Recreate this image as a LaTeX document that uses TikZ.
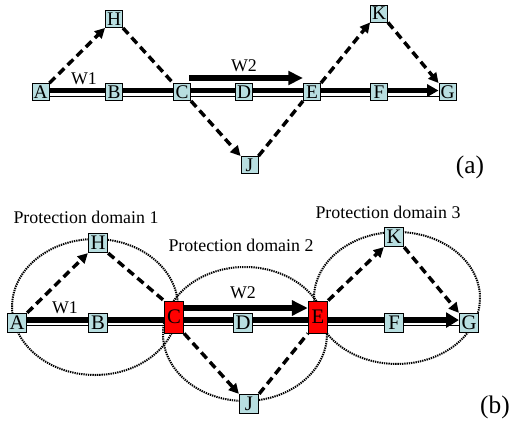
\documentclass[tikz,border=0pt]{standalone}
\usepackage{fontspec}
\setmainfont{Liberation Serif}
\usetikzlibrary{arrows.meta,backgrounds}
\definecolor{nodecyan}{RGB}{184,222,224}
\definecolor{hubred}{RGB}{255,0,0}
\begin{document}
\begin{tikzpicture}[x=0.75pt,y=-0.75pt,
  netnode/.style={draw=black,line width=0.7pt,fill=nodecyan,inner sep=0pt,
    minimum width=12.75pt,minimum height=12.75pt,font=\fontsize{14.5}{14.5}\selectfont},
  bignode/.style={netnode,minimum width=14.5pt,minimum height=14.5pt,
    font=\fontsize{15.5}{15.5}\selectfont},
  hubnode/.style={bignode,fill=hubred,minimum height=24pt},
  lbl/.style={font=\fontsize{13.4}{14}\selectfont,inner sep=0pt},
  tag/.style={font=\fontsize{19}{19}\selectfont,inner sep=0pt},
  backup/.style={line width=2.6pt,dash pattern=on 6pt off 3.6pt},
  backuparr/.style={backup,-{Triangle[length=7.5pt,width=7.5pt]}},
  workthick/.style={line width=3.9pt},
  workthin/.style={line width=0.9pt},
  domainring/.style={line width=1.5pt,dash pattern=on 1pt off 0.7pt},
  w2arrow/.style={line width=4.4pt}
]
\path[use as bounding box] (0,0) rectangle (511,422);

% ---------------- (a) ----------------
\node[netnode] (aA) at (40.5,92) {A};
\node[netnode] (aB) at (114,92) {B};
\node[netnode] (aC) at (182,92) {C};
\node[netnode] (aD) at (244,92) {D};
\node[netnode] (aE) at (312,92) {E};
\node[netnode] (aF) at (379,92) {F};
\node[netnode] (aG) at (447.5,92) {G};
\node[netnode] (aH) at (114,19) {H};
\node[netnode] (aK) at (379,13.5) {K};
\node[netnode] (aJ) at (249.5,165) {J};

\begin{scope}[on background layer]
  \draw[workthin] ([yshift=-3.4pt]aA.east) -- ([yshift=-3.4pt]aG.west);
  \draw[workthick,-{Triangle[length=8.5pt,width=9pt]}]
    ([yshift=1.1pt]aA.east) -- ([yshift=1.1pt]aG.west);
\end{scope}

\node[lbl] (aW1) at (84,79) {W1};
\node[lbl] (aW2) at (244,66) {W2};
\coordinate (aW2s) at (189,78);
\coordinate (aW2e) at (303,78);
\draw[w2arrow,-{Triangle[length=11pt,width=10pt]}] (aW2s) -- (aW2e);

\draw[backuparr] (aA.north east) -- (aH.south west);
\draw[backup] (aH.south east) -- (aC.north west);
\draw[backuparr] (aC.south east) -- (aJ.north west);
\draw[backup] (aJ.north east) -- (aE.south west);
\draw[backuparr] (aE.north east) -- (aK.south west);
\draw[backuparr] (aK.south east) -- (aG.north west);

\node[tag] (atag) at (470,167) {(a)};

% ---------------- (b) ----------------
\node[bignode] (bA) at (17,323) {A};
\node[bignode] (bB) at (98,323) {B};
\node[hubnode] (bC) at (174,317) {C};
\node[bignode] (bD) at (243,323) {D};
\node[hubnode] (bE) at (318,317) {E};
\node[bignode] (bF) at (394,323) {F};
\node[bignode] (bG) at (469,323) {G};
\node[bignode] (bH) at (98,243) {H};
\node[bignode] (bK) at (394,237) {K};
\node[bignode] (bJ) at (249,404) {J};

\begin{scope}[on background layer]
  \draw[domainring] (95,307) ellipse [x radius=83, y radius=68];
  \draw[domainring] (245,334) ellipse [x radius=82, y radius=67];
  \draw[domainring] (397,298) ellipse [x radius=83, y radius=66];
  \draw[workthin] ([yshift=-2pt]bA.east) -- ([yshift=-2pt]bG.west);
  \draw[workthick,-{Triangle[length=9.5pt,width=11pt]}]
    ([yshift=2.2pt]bA.east) -- ([yshift=2.2pt]bG.west);
\end{scope}

\node[lbl] (bW1) at (65,308) {W1};
\node[lbl] (bW2) at (243,293) {W2};
\coordinate (bW2s) at (bC.east |- 0,308);
\coordinate (bW2e) at (bE.west |- 0,308);
\draw[w2arrow,-{Triangle[length=12pt,width=11pt]}] (bW2s) -- (bW2e);

\draw[backuparr] (bA.north east) -- (bH.south west);
\draw[backup] (bH.south east) -- (bC.north west);
\draw[backuparr] (bC.south east) -- (bJ.north west);
\draw[backup] (bJ.north east) -- (bE.south west);
\draw[backuparr] (bE.north east) -- (bK.south west);
\draw[backuparr] (bK.south east) -- (bG.north west);

\node[lbl] (pd1) at (86,217) {Protection domain 1};
\node[lbl] (pd2) at (241,245) {Protection domain 2};
\node[lbl] (pd3) at (388,212) {Protection domain 3};

\node[tag] (btag) at (495,407) {(b)};
\end{tikzpicture}
\end{document}
